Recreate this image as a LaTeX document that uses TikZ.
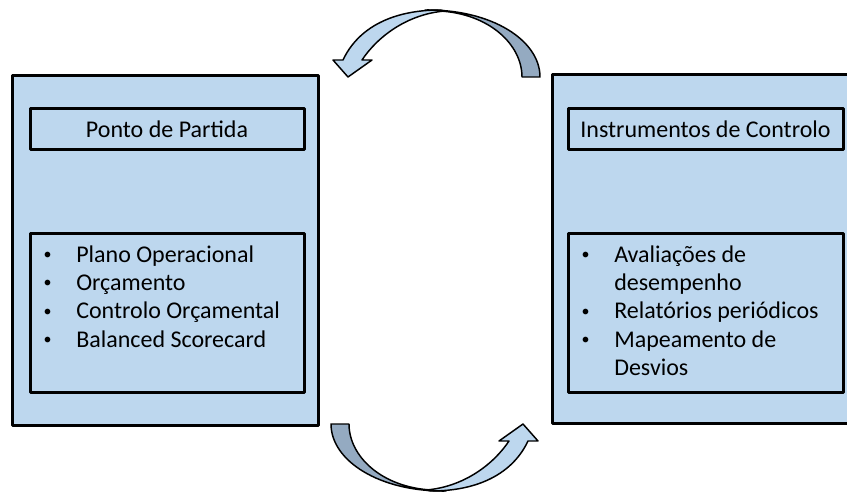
\documentclass[tikz,border=0pt]{standalone}
\usepackage{fontspec}
\setmainfont{Carlito}
\usetikzlibrary{positioning,fit}
\definecolor{panelblue}{HTML}{BDD7EE}
\definecolor{shadeblue}{HTML}{94AAC1}
\newcommand\bulletitem[1]{\makebox[23pt][l]{\hspace{-1.5pt}\raisebox{2pt}{\fontsize{12}{12}\selectfont\textbullet}}#1}
\newcommand\hangitem[1]{\hspace*{23pt}#1}

\begin{document}
\begin{tikzpicture}[x=0.75pt, y=-0.75pt, line join=round]
    \tikzset{panel/.style={draw, line width=2.25pt, fill=panelblue, inner sep=0pt, outer sep=0pt},
             frame/.style={draw, line width=2.25pt, inner sep=0pt, outer sep=0pt},
             label text/.style={inner sep=0pt, font=\fontsize{18}{21.25}\selectfont},
             items/.style={align=left, inner sep=0pt, font=\fontsize{18}{21.25}\selectfont},
             turn arrow/.pic={
               % back part of the band
               \filldraw[fill=shadeblue, line width=1.1pt]
                 (425,10) .. controls (491,9) and (540,40) .. (540,77)
                 -- (522,77) .. controls (522,45) and (490,14) .. (440,11) -- cycle;
               % front part with the head
               \filldraw[fill=panelblue, line width=1.1pt]
                 (343,60) .. controls (358,28) and (392,10) .. (440,10)
                 -- (445,11) .. controls (408,14) and (378,36) .. (362,60)
                 -- (372,60) -- (348,77) -- (333,60) -- cycle;
             }}

  % canvas of the reference
  \useasboundingbox (0,0) rectangle (847,492);

  % the two panels (the right one runs past the edge)
  \begin{scope}
    \clip (0,0) rectangle (847,492);
    \node[panel, fit={(12,76) (318,425)}] (start) {};
    \node[panel, fit={(552,75) (862,423)}] (control) {};
  \end{scope}

  % headings
  \node[frame, fit={(30,109) (304,150)}] (startHead) {};
  \node[frame, fit={(568,109) (843,150)}] (controlHead) {};
  \node[label text] (startTitle) at (startHead) {Ponto de Partida};
  \node[label text] (controlTitle) at (controlHead) {Instrumentos de Controlo};

  % lists
  \node[frame, fit={(30,233) (304,392)}] (startList) {};
  \node[frame, fit={(568,233) (843,392)}] (controlList) {};
  \node[items, below right=9.3pt and 11.5pt of startList.north west] (startItems) {%
    \bulletitem{Plano Operacional}\\
    \bulletitem{Orçamento}\\
    \bulletitem{Controlo Orçamental}\\
    \bulletitem{Balanced Scorecard}};
  \node[items, below right=9.3pt and 11.5pt of controlList.north west] (controlItems) {%
    \bulletitem{Avaliações de}\\
    \hangitem{desempenho}\\
    \bulletitem{Relatórios periódicos}\\
    \bulletitem{Mapeamento de}\\
    \hangitem{Desvios}};

  % curved arrows between the panels
  \pic at (0,0) {turn arrow};
  \pic[rotate=180] at (871,501) {turn arrow};
\end{tikzpicture}
\end{document}
